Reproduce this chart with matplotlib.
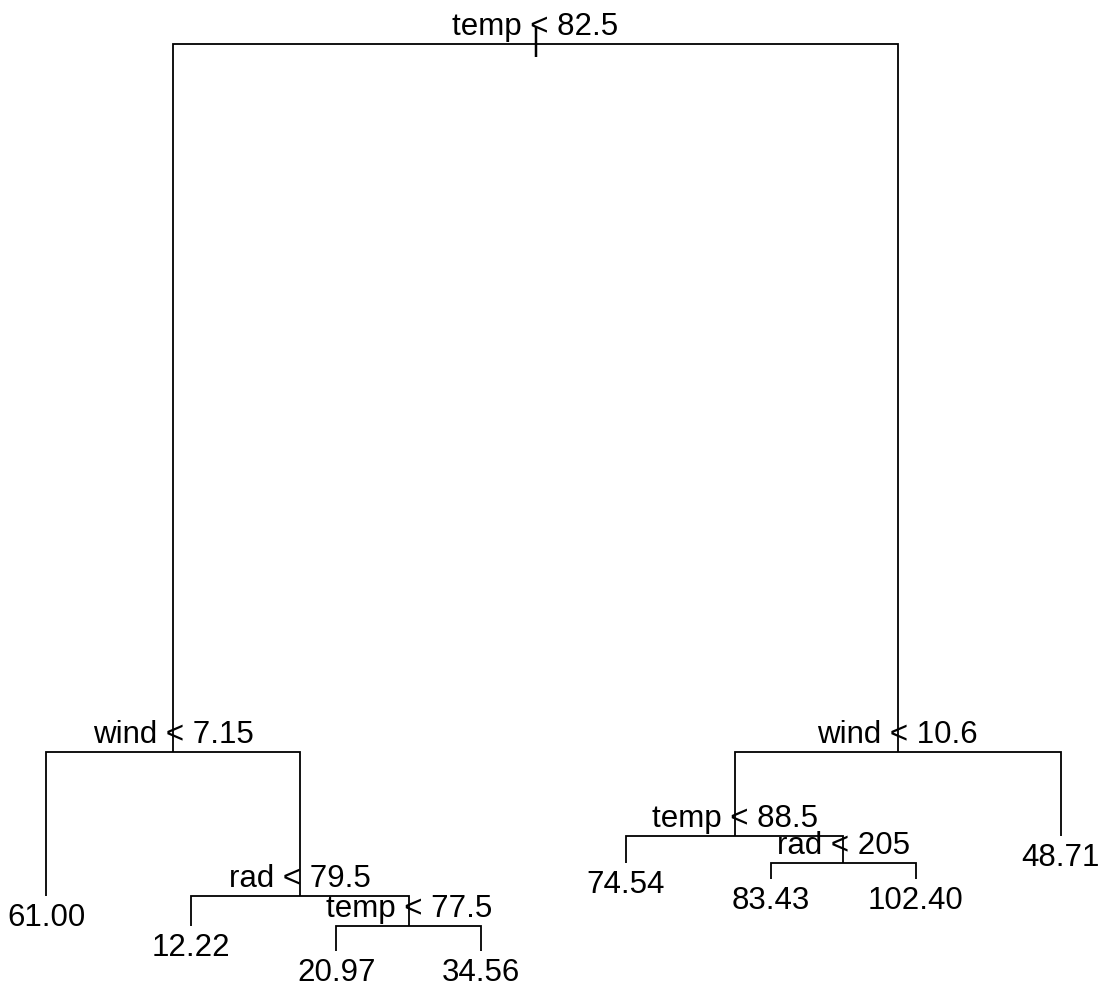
import matplotlib
matplotlib.use("Agg")
import matplotlib.pyplot as plt

# Regression tree for ozone (R `tree` object, frame rows in pre-order)
node_id   = [1, 2, 4, 5, 10, 11, 22, 23, 3, 6, 12, 13, 26, 27, 7]
split_var = ["temp", "wind", None, "rad", None, "temp", None, None,
             "wind", "temp", None, "rad", None, None, None]
split_cut = ["82.5", "7.15", None, "79.5", None, "77.5", None, None,
             "10.6", "88.5", None, "205", None, None, None]
node_dev  = [125100, 33615, 6000, 15375, 1100, 11725, 5200, 4400,
             31305, 19155, 2300, 14560, 3400, 9800, 5010]
leaf_yval = [None, None, 61.00, None, 12.22, None, 20.97, 34.56,
             None, None, 74.54, None, 83.43, 102.40, 48.71]

plt.rcParams["font.family"] = ["Liberation Sans", "DejaVu Sans"]
FS = 22.5
LW = 1.3

idx = {n: i for i, n in enumerate(node_id)}
dev = dict(zip(node_id, node_dev))
is_leaf = {n: split_var[i] is None for i, n in enumerate(node_id)}

# y: proportional layout, siblings share a height lowered by the parent's
# deviance reduction
y = {}
for n in node_id:
    if n == 1:
        y[n] = dev[n]
    else:
        p = n // 2
        drop = dev[p] - dev[2 * p] - dev[2 * p + 1]
        y[n] = y[p] - drop

# x: leaves evenly spaced in order, internal nodes at midpoint of children
x = {}
k = 0
for n in node_id:
    if is_leaf[n]:
        k += 1
        x[n] = k
for n in sorted([m for m in node_id if not is_leaf[m]], reverse=True):
    x[n] = 0.5 * (x[2 * n] + x[2 * n + 1])

fig = plt.figure(figsize=(11.11, 9.88), dpi=100)
ax = fig.add_axes([0.00531, 0.00073, 0.98596, 0.99146])
ax.set_axis_off()

xs = list(x.values())
ys = list(y.values())
xr = max(xs) - min(xs)
yr = max(ys) - min(ys)
ax.set_xlim(min(xs) - 0.04 * xr, max(xs) + 0.04 * xr)
ax.set_ylim(min(ys) - 0.04 * yr, max(ys) + 0.04 * yr)

# branches
for n in node_id:
    if is_leaf[n]:
        continue
    l, r = 2 * n, 2 * n + 1
    ax.plot([x[l], x[l], x[r], x[r]], [y[l], y[n], y[n], y[r]],
            color="black", lw=LW, solid_joinstyle="miter",
            solid_capstyle="butt")

# root marker
ax.annotate("|", (x[1], y[1]), xytext=(0, -4.6), textcoords="offset points",
            ha="center", va="baseline", fontsize=FS)

# split and leaf labels
for i, n in enumerate(node_id):
    if is_leaf[n]:
        ax.annotate(f"{leaf_yval[i]:.2f}", (x[n], y[n]), xytext=(0, -21.6),
                    textcoords="offset points", ha="center", va="baseline",
                    fontsize=FS)
    else:
        ax.annotate(f"{split_var[i]} < {split_cut[i]}", (x[n], y[n]),
                    xytext=(0, 6.2), textcoords="offset points",
                    ha="center", va="baseline", fontsize=FS)

fig.savefig("out.png", dpi=100, facecolor="white")
